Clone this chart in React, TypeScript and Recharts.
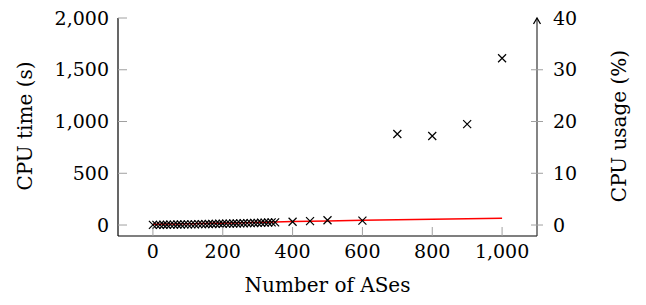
import { ComposedChart, Scatter, Line, XAxis, YAxis, Label } from "recharts";

// number of ASes in each run
const asCounts = [
  0, 10, 20, 30, 40, 50, 60, 70, 80, 90, 100, 110, 120, 130, 140, 150, 160,
  170, 180, 190, 200, 210, 220, 230, 240, 250, 260, 270, 280, 290, 300, 310,
  320, 330, 340, 350, 400, 450, 500, 600, 700, 800, 900, 1000,
];

// CPU time (s), left axis
const cpuTime = [
  1, 2, 2, 3, 3, 4, 4, 5, 5, 6, 6, 7, 7, 8, 8, 9, 10, 10, 11, 12, 12, 13, 14,
  15, 15, 16, 17, 18, 19, 20, 21, 22, 23, 24, 25, 26, 32, 38, 46, 43, 879, 860,
  975, 1611,
];

// CPU usage (%), right axis
const cpuUsage = [
  0.15, 0.16, 0.17, 0.18, 0.19, 0.2, 0.21, 0.22, 0.23, 0.24, 0.25, 0.26, 0.27,
  0.28, 0.29, 0.3, 0.31, 0.32, 0.33, 0.34, 0.36, 0.37, 0.38, 0.4, 0.41, 0.43,
  0.44, 0.46, 0.47, 0.49, 0.5, 0.52, 0.54, 0.55, 0.57, 0.6, 0.68, 0.74, 0.8,
  0.9, 1.0, 1.1, 1.2, 1.3,
];

const xTicks = [0, 200, 400, 600, 800, 1000];
const timeTicks = [0, 500, 1000, 1500, 2000];
const usageTicks = [0, 10, 20, 30, 40];

const rows = asCounts.map((n, i) => ({
  n,
  time: cpuTime[i],
  usage: cpuUsage[i],
}));

const FONT = "DejaVu Serif";
const TICK_GRAY = "#a0a0a0";
const TICK_LEN = 9;

const fmt = (v: number) => v.toLocaleString("en-US");

const CrossMark = (props: any) => {
  const { cx, cy } = props;
  if (cx == null || cy == null) return null;
  const r = 4;
  return (
    <path
      d={`M${cx - r},${cy - r}L${cx + r},${cy + r}M${cx + r},${cy - r}L${cx - r},${cy + r}`}
      stroke="#000"
      strokeWidth={1.2}
      fill="none"
    />
  );
};

const tickText = { fontFamily: FONT, fontSize: 19, fill: "#000" };

const BottomTick = (props: any) => {
  const { x, y, payload } = props;
  const axisY = y - 9;
  return (
    <g>
      <line x1={x} x2={x} y1={axisY} y2={axisY - TICK_LEN} stroke={TICK_GRAY} />
      <text x={x} y={y} dy="0.71em" textAnchor="middle" style={tickText}>
        {fmt(payload.value)}
      </text>
    </g>
  );
};

const TopTick = (props: any) => {
  const { x, y } = props;
  return <line x1={x} x2={x} y1={y} y2={y + TICK_LEN} stroke={TICK_GRAY} />;
};

const LeftTick = (props: any) => {
  const { x, y, payload } = props;
  const axisX = x + 9;
  return (
    <g>
      <line x1={axisX} x2={axisX + TICK_LEN} y1={y} y2={y} stroke={TICK_GRAY} />
      <text x={x} y={y} dy="0.35em" textAnchor="end" style={tickText}>
        {fmt(payload.value)}
      </text>
    </g>
  );
};

const RightTick = (props: any) => {
  const { x, y, payload } = props;
  const axisX = x - 16;
  const top = payload.value === 40;
  return (
    <g>
      {!top && (
        <line x1={axisX - 6} x2={axisX + 6} y1={y} y2={y} stroke={TICK_GRAY} />
      )}
      {top && (
        <path
          d={`M${axisX - 3.5},${y + 6}L${axisX},${y}L${axisX + 3.5},${y + 6}`}
          stroke="#000"
          strokeWidth={1.3}
          fill="none"
        />
      )}
      <text x={x} y={y} dy="0.35em" textAnchor="start" style={tickText}>
        {fmt(payload.value)}
      </text>
    </g>
  );
};

const labelStyle = {
  fontFamily: FONT,
  fontSize: 20,
  fill: "#000",
};

export default function App() {
  return (
    <div style={{ position: "absolute", left: 0, top: 0, background: "#fff" }}>
      <ComposedChart
        width={646}
        height={305}
        data={rows}
        margin={{ top: 18, right: 0, bottom: 0, left: 0 }}
      >
        <XAxis
          xAxisId="bottom"
          dataKey="n"
          type="number"
          domain={[-100, 1100]}
          ticks={xTicks}
          interval={0}
          height={69}
          tickSize={0}
          tickMargin={9}
          tickLine={false}
          axisLine={{ stroke: "#000", strokeWidth: 1.2 }}
          tick={<BottomTick />}
          allowDataOverflow
        >
          <Label
            content={(p: any) => {
              const vb = p.viewBox;
              return (
                <text
                  x={vb.x + vb.width / 2}
                  y={vb.y + 56}
                  textAnchor="middle"
                  style={labelStyle}
                >
                  Number of ASes
                </text>
              );
            }}
          />
        </XAxis>
        <XAxis
          xAxisId="top"
          orientation="top"
          dataKey="n"
          type="number"
          domain={[-100, 1100]}
          ticks={xTicks}
          interval={0}
          height={0}
          tickSize={0}
          tickMargin={0}
          tickLine={false}
          axisLine={{ stroke: "#000", strokeWidth: 1.2 }}
          tick={<TopTick />}
          allowDataOverflow
        />
        <YAxis
          yAxisId="time"
          orientation="left"
          type="number"
          domain={[-106, 2000]}
          ticks={timeTicks}
          interval={0}
          width={118}
          tickSize={0}
          tickMargin={9}
          tickLine={false}
          axisLine={{ stroke: "#000", strokeWidth: 1.2 }}
          tick={<LeftTick />}
          allowDataOverflow
        >
          <Label
            content={(p: any) => {
              const vb = p.viewBox;
              const cx = vb.x + 25;
              const cy = vb.y + vb.height / 2 - 1;
              return (
                <text
                  x={cx}
                  y={cy}
                  textAnchor="middle"
                  dominantBaseline="central"
                  transform={`rotate(-90, ${cx}, ${cy})`}
                  style={labelStyle}
                >
                  CPU time (s)
                </text>
              );
            }}
          />
        </YAxis>
        <YAxis
          yAxisId="usage"
          orientation="right"
          type="number"
          domain={[-2.12, 40]}
          ticks={usageTicks}
          interval={0}
          width={109}
          tickSize={0}
          tickMargin={16}
          tickLine={false}
          axisLine={{ stroke: "#333", strokeWidth: 1.2 }}
          tick={<RightTick />}
          allowDataOverflow
        >
          <Label
            content={(p: any) => {
              const vb = p.viewBox;
              const cx = vb.x + 82;
              const cy = vb.y + vb.height / 2 - 1;
              return (
                <text
                  x={cx}
                  y={cy}
                  textAnchor="middle"
                  dominantBaseline="central"
                  transform={`rotate(-90, ${cx}, ${cy})`}
                  style={labelStyle}
                >
                  CPU usage (%)
                </text>
              );
            }}
          />
        </YAxis>
        <Scatter
          xAxisId="bottom"
          yAxisId="time"
          dataKey="time"
          shape={<CrossMark />}
          isAnimationActive={false}
        />
        <Line
          xAxisId="bottom"
          yAxisId="usage"
          dataKey="usage"
          stroke="#ff0000"
          strokeWidth={1.5}
          dot={false}
          activeDot={false}
          isAnimationActive={false}
        />
      </ComposedChart>
    </div>
  );
}
